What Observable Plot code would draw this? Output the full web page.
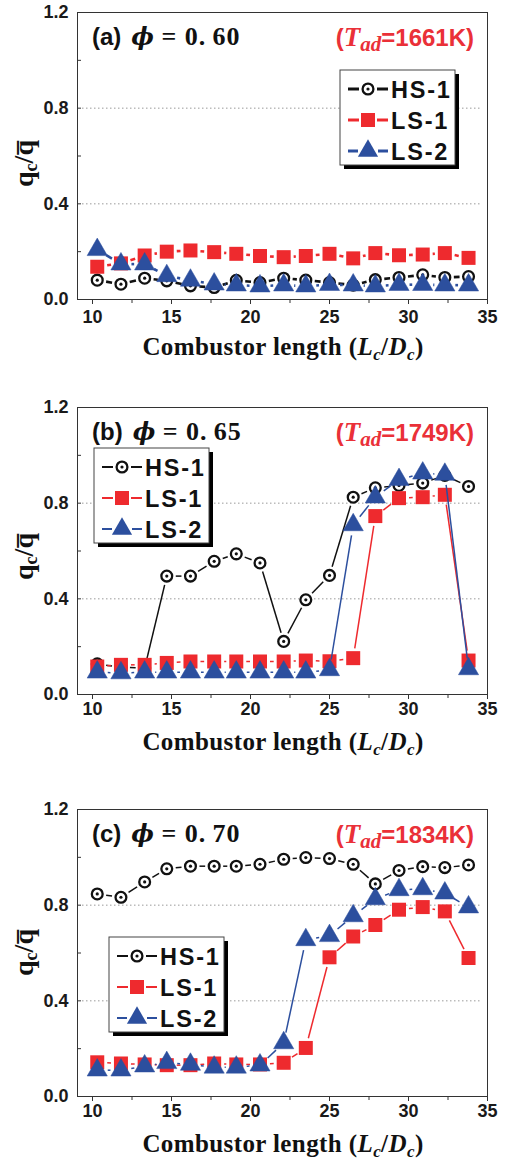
<!DOCTYPE html>
<html><head><meta charset="utf-8">
<script src="https://cdn.jsdelivr.net/npm/d3@7"></script>
<script src="https://cdn.jsdelivr.net/npm/@observablehq/plot@0.6"></script>
<style>body{margin:0;background:#fff;} svg{display:block;}</style>
</head><body><div id="chart"></div>
<script>
// ---------------- data ----------------
const xLc = [10.3, 11.8, 13.3, 14.7, 16.2, 17.7, 19.1, 20.6, 22.1, 23.5, 25.0, 26.5, 27.9, 29.4, 30.9, 32.3, 33.8];
const seriesNames = ["HS-1", "LS-1", "LS-2"];
const panelLetters = ["(a)", "(b)", "(c)"];
const phiValues = ["0.60", "0.65", "0.70"];
const tadValues = ["1661", "1749", "1834"];

const aHS1 = [0.081,0.064,0.089,0.078,0.057,0.050,0.080,0.071,0.089,0.081,0.071,0.060,0.083,0.092,0.103,0.092,0.096];
const aLS1 = [0.137,0.151,0.184,0.200,0.205,0.198,0.191,0.182,0.177,0.182,0.191,0.172,0.194,0.185,0.188,0.194,0.174];
const aLS2 = [0.208,0.148,0.148,0.099,0.080,0.064,0.060,0.056,0.060,0.056,0.062,0.060,0.056,0.062,0.062,0.060,0.060];

const bHS1 = [0.128,0.114,0.110,0.495,0.495,0.557,0.588,0.550,0.222,0.396,0.498,0.825,0.864,0.874,0.884,0.916,0.870];
const bLS1 = [0.117,0.124,0.124,0.132,0.138,0.138,0.138,0.138,0.138,0.142,0.139,0.152,0.746,0.821,0.825,0.835,0.142];
const bLS2 = [0.093,0.090,0.093,0.093,0.093,0.093,0.093,0.093,0.093,0.093,0.103,0.709,0.825,0.898,0.925,0.920,0.107];

const cHS1 = [0.847,0.833,0.897,0.952,0.963,0.963,0.963,0.971,0.992,0.999,0.995,0.971,0.889,0.945,0.961,0.957,0.968];
const cLS1 = [0.143,0.138,0.134,0.131,0.131,0.138,0.134,0.134,0.141,0.203,0.582,0.669,0.717,0.781,0.792,0.774,0.579];
const cLS2 = [0.110,0.110,0.127,0.141,0.134,0.122,0.122,0.131,0.224,0.655,0.672,0.755,0.826,0.864,0.868,0.850,0.792];

const xTicks = [10, 15, 20, 25, 30, 35];
const xMinorTicks = [12.5, 17.5, 22.5, 27.5, 32.5];
const yTicks = [0, 0.4, 0.8, 1.2];
const yMinorTicks = [0.2, 0.4, 0.6, 0.8, 1.0];
const gridLines = [0.4, 0.8];

// ---------------- styling ----------------
const W = 505, L = 77, R = 487, PH = 287;
const SANS = "'Liberation Sans', Arial, sans-serif";
const SERIF = "'Liberation Serif', 'DejaVu Serif', serif";
const colHS = "#111111", colLS1 = "#ee2a2e", colLS2 = "#2c4f9e", colTad = "#ea3038";
const rCirc = 5.4, rSq = 7.9, rTri = 7.5;

const segs = ys => ys.slice(0, -1).map((y, i) => ({x1: xLc[i], y1: y, x2: xLc[i + 1], y2: ys[i + 1]}));
const pts = ys => ys.map((y, i) => ({x: xLc[i], y}));

function lineMark(ys, color, lw, gap) {
  return Plot.arrow(segs(ys), {x1: "x1", y1: "y1", x2: "x2", y2: "y2", headLength: 0,
    insetStart: gap, insetEnd: gap, stroke: color, strokeWidth: lw, strokeLinecap: "butt"});
}

const panels = [
  {H: 395, mt: 12, tp: 6, hs: aHS1, ls1: aLS1, ls2: aLS2, lw: 2.6, leg: [340, 70], legLw: 3, ylOff: 8},
  {H: 402, mt: 12, tp: 3, hs: bHS1, ls1: bLS1, ls2: bLS2, lw: 1.5, leg: [94, 53], legLw: 2, ylOff: 6},
  {H: 365, mt: 12, tp: 3, hs: cHS1, ls1: cLS1, ls2: cLS2, lw: 1.5, leg: [109, 140], legLw: 2, ylOff: 0}
];

const chart = document.getElementById("chart");

panels.forEach((p, k) => {
  const mb = p.H - p.mt - PH;
  const pw = R - L;
  const svg = Plot.plot({
    width: W, height: p.H,
    marginLeft: L, marginRight: W - R, marginTop: p.mt, marginBottom: mb,
    x: {domain: [9.05, 35]},
    y: {domain: [0, 1.2]},
    style: {fontFamily: SANS, background: "#fff", overflow: "visible"},
    marks: [
      Plot.ruleY(gridLines, {stroke: "#9a9a9a", strokeDasharray: "1.5 2.5", insetLeft: 5, insetRight: 5}),
      Plot.tickY(yMinorTicks, {stroke: "#333", insetRight: pw - 4}),
      Plot.axisY({ticks: yTicks, tickSize: 0, tickPadding: 9, tickFormat: d3.format(".1f"), label: null,
        fontSize: 18, fontWeight: "bold", fill: "#1a1a1a"}),
      Plot.axisX({ticks: xTicks, tickSize: 5, tickPadding: p.tp, tickFormat: d => String(d), label: null,
        fontSize: 18, fontWeight: "bold", fill: "#1a1a1a", stroke: "#333"}),
      Plot.axisX({ticks: xMinorTicks, tickSize: 4, tickFormat: () => "", label: null, stroke: "#333"}),
      Plot.frame({stroke: "#333"}),
      // HS-1
      lineMark(p.hs, colHS, p.lw, 9),
      Plot.dot(pts(p.hs), {x: "x", y: "y", r: rCirc, stroke: colHS, strokeWidth: 2.3, fill: "white"}),
      Plot.dot(pts(p.hs), {x: "x", y: "y", r: 1.6, fill: colHS}),
      // LS-1
      lineMark(p.ls1, colLS1, p.lw, 10),
      Plot.dot(pts(p.ls1), {x: "x", y: "y", r: rSq, symbol: "square", fill: colLS1}),
      // LS-2
      lineMark(p.ls2, colLS2, p.lw, 10.5),
      Plot.dot(pts(p.ls2), {x: "x", y: "y", r: rTri, symbol: "triangle", fill: colLS2, stroke: colLS2, strokeWidth: 0.5})
    ]
  });
  const s = d3.select(svg);
  const top = p.mt, bottom = p.mt + PH;

  // panel title
  const t = s.append("text").attr("x", 92).attr("y", top + 33).attr("fill", "#111").attr("text-anchor", "start");
  t.append("tspan").attr("font-family", SANS).attr("font-weight", "bold").attr("font-size", 24).text(panelLetters[k]);
  t.append("tspan").attr("dx", 10).attr("font-family", "'DejaVu Serif', serif").attr("font-weight", "bold")
    .attr("font-style", "italic").attr("font-size", 24).text("\u03D5");
  t.append("tspan").attr("font-family", SERIF).attr("font-weight", "bold").attr("font-size", 26)
    .attr("letter-spacing", 1).text(" = 0.\u2009" + phiValues[k].slice(2));

  // T_ad
  const r = s.append("text").attr("x", 474).attr("y", top + 34).attr("text-anchor", "end").attr("fill", colTad);
  r.append("tspan").attr("font-family", SANS).attr("font-weight", "bold").attr("font-size", 24).text("(");
  r.append("tspan").attr("font-family", SERIF).attr("font-weight", "bold").attr("font-style", "italic").attr("font-size", 27).text("T");
  r.append("tspan").attr("font-family", SERIF).attr("font-weight", "bold").attr("font-style", "italic").attr("font-size", 21)
    .attr("dy", 5).text("ad");
  r.append("tspan").attr("font-family", SANS).attr("font-weight", "bold").attr("font-size", 24)
    .attr("dy", -5).text("=" + tadValues[k] + "K)");

  // x-axis title
  const xt = s.append("text").attr("x", (L + R) / 2 + 1).attr("y", bottom + 56).attr("text-anchor", "middle")
    .attr("font-family", SERIF).attr("font-weight", "bold").attr("font-size", 25).attr("letter-spacing", 0.4)
    .attr("fill", "#111");
  xt.append("tspan").text("Combustor length (");
  xt.append("tspan").attr("font-style", "italic").text("L");
  xt.append("tspan").attr("font-style", "italic").attr("font-size", 17).attr("dy", 5).text("c");
  xt.append("tspan").attr("dy", -5).text("/");
  xt.append("tspan").attr("font-style", "italic").text("D");
  xt.append("tspan").attr("font-style", "italic").attr("font-size", 17).attr("dy", 5).text("c");
  xt.append("tspan").attr("dy", -5).text(")");

  // y-axis title
  const yt = s.append("text").attr("transform", `translate(33,${(top + bottom) / 2 + p.ylOff}) rotate(-90)`)
    .attr("text-anchor", "middle").attr("font-family", SERIF).attr("font-weight", "bold")
    .attr("font-size", 28).attr("fill", "#111");
  yt.append("tspan").text("q");
  yt.append("tspan").attr("font-size", 18).attr("dy", 4).text("c");
  yt.append("tspan").attr("dy", -4).text("/q\u0305");

  // legend
  const [bx, by] = p.leg;
  const bw = 115, bh = 95;
  const g = s.append("g").attr("text-anchor", "start");
  g.append("rect").attr("x", bx + 4).attr("y", by + 4).attr("width", bw).attr("height", bh).attr("fill", "#000");
  g.append("rect").attr("x", bx).attr("y", by).attr("width", bw).attr("height", bh)
    .attr("fill", "#fff").attr("stroke", "#444").attr("stroke-width", 1);
  const rows = [
    {name: seriesNames[0], color: colHS, sym: d3.symbolCircle, r: rCirc, gap: 9},
    {name: seriesNames[1], color: colLS1, sym: d3.symbolSquare, r: rSq, gap: 9},
    {name: seriesNames[2], color: colLS2, sym: d3.symbolTriangle, r: rTri, gap: 10}
  ];
  const rowY = [19, 50, 81];
  rows.forEach((row, i) => {
    const cy = by + rowY[i], cx = bx + 28;
    g.append("line").attr("x1", bx + 8).attr("x2", cx - row.gap).attr("y1", cy).attr("y2", cy)
      .attr("stroke", row.color).attr("stroke-width", p.legLw);
    g.append("line").attr("x1", cx + row.gap).attr("x2", bx + 48).attr("y1", cy).attr("y2", cy)
      .attr("stroke", row.color).attr("stroke-width", p.legLw);
    if (i === 0) {
      g.append("circle").attr("cx", cx).attr("cy", cy).attr("r", rCirc).attr("fill", "#fff")
        .attr("stroke", colHS).attr("stroke-width", 2.3);
      g.append("circle").attr("cx", cx).attr("cy", cy).attr("r", 1.6).attr("fill", colHS);
    } else {
      g.append("path").attr("transform", `translate(${cx},${cy})`)
        .attr("d", d3.symbol(row.sym, Math.PI * row.r * row.r)()).attr("fill", row.color);
    }
    g.append("text").attr("x", bx + 51).attr("y", cy + 8.5).attr("font-family", SANS).attr("font-weight", "bold")
      .attr("font-size", 23.5).attr("letter-spacing", 1.8).attr("fill", "#111").text(row.name);
  });

  chart.appendChild(svg);
});
</script>
</body></html>
